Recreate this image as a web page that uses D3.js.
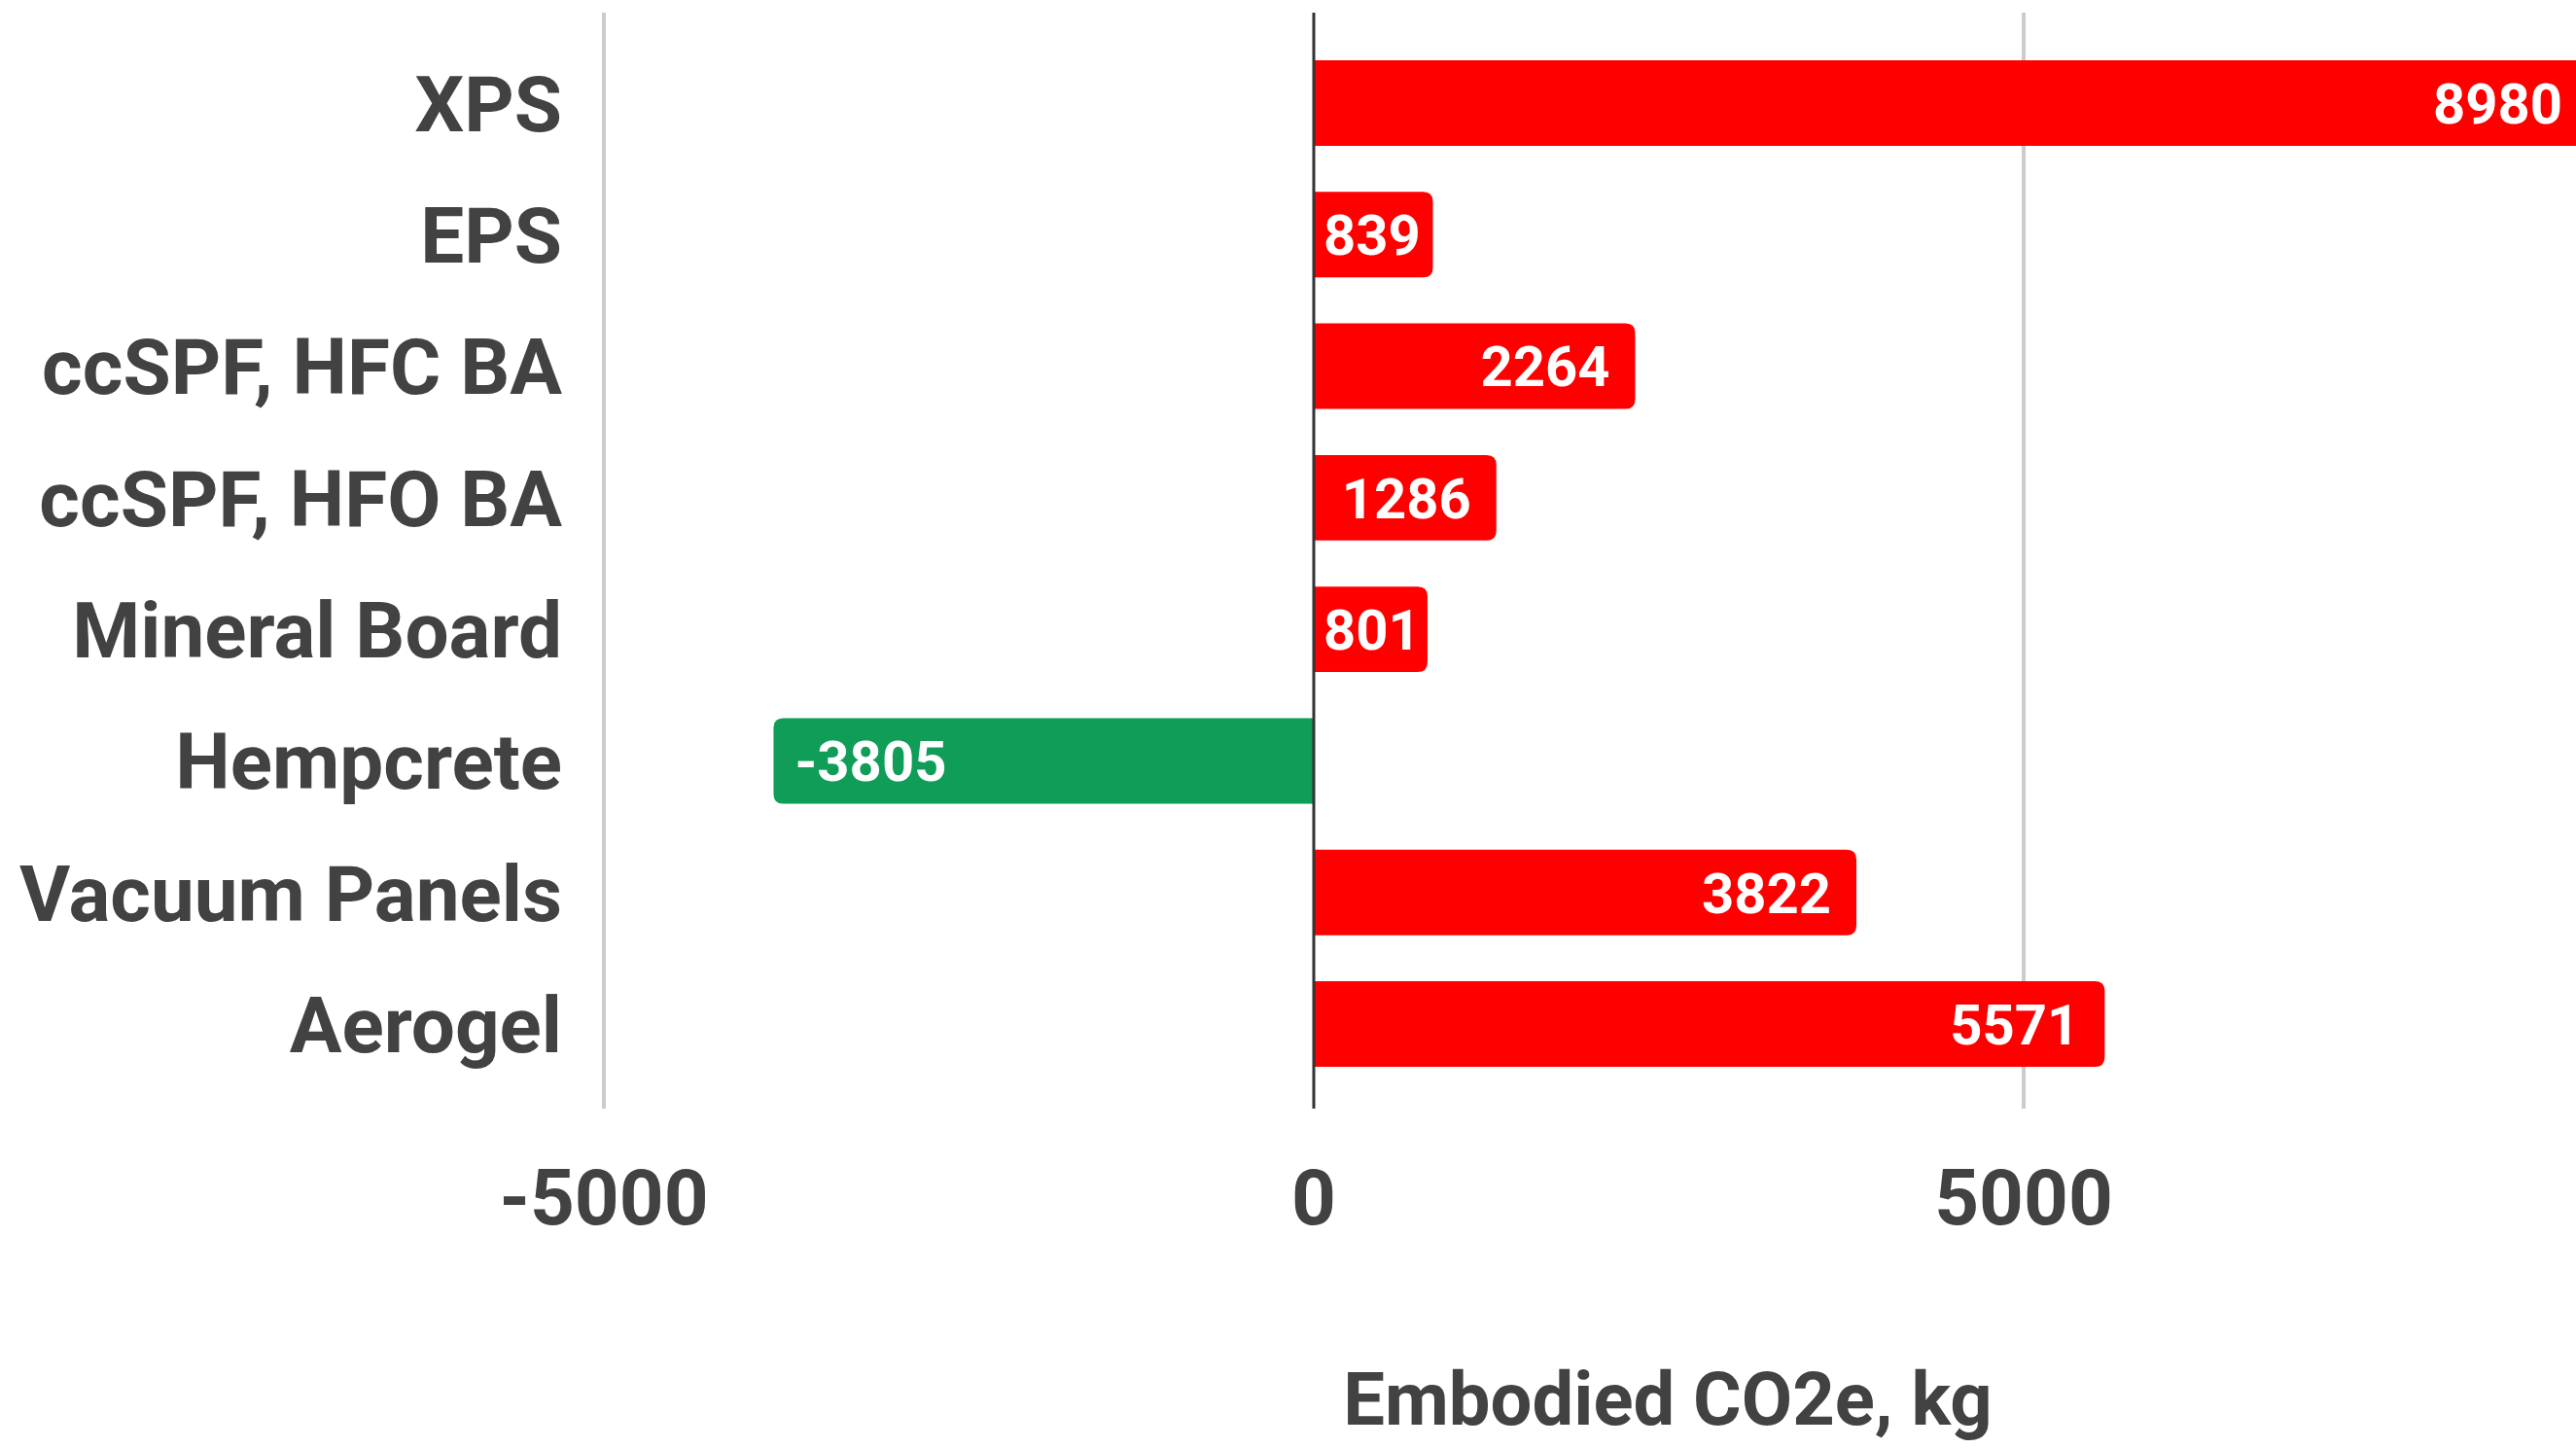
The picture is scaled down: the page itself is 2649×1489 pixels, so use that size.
<!DOCTYPE html>
<html>
<head>
<meta charset="utf-8">
<script src="https://cdn.jsdelivr.net/npm/d3@7"></script>
<style>
  html, body { margin: 0; padding: 0; background: #fff; overflow: hidden; }
  svg { display: block; }
</style>
</head>
<body>
<svg id="chart" width="2649" height="1489"></svg>
<script>
const categories = ["XPS", "EPS", "ccSPF, HFC BA", "ccSPF, HFO BA", "Mineral Board", "Hempcrete", "Vacuum Panels", "Aerogel"];
const values = [8980, 839, 2264, 1286, 801, -3805, 3822, 5571];
const tickValues = [-5000, 0, 5000];
const axisTitle = "Embodied CO2e, kg";

const W = 2649, H = 1489;
const svg = d3.select("#chart");
const font = "Roboto, 'Noto Sans', sans-serif";

const x = d3.scaleLinear().domain([-5000, 10000]).range([621, 2811]);
const y = d3.scaleBand().domain(categories).range([16, 1143]).paddingInner(0.35).paddingOuter(0.34);

const gridTop = 13, gridBottom = 1140;
const fmt = v => String(v);

// gridlines
svg.append("g").selectAll("line")
  .data(tickValues.filter(d => d !== 0))
  .join("line")
  .attr("x1", d => x(d)).attr("x2", d => x(d))
  .attr("y1", gridTop).attr("y2", gridBottom)
  .attr("stroke", "#cccccc").attr("stroke-width", 4);

// bars with rounded outer end
const r = 10;
function barPath(v, cat) {
  const y0 = y(cat), h = y.bandwidth();
  const x0 = x(0), x1 = x(v);
  if (v >= 0) {
    return `M${x0},${y0} H${x1 - r} Q${x1},${y0} ${x1},${y0 + r} V${y0 + h - r} Q${x1},${y0 + h} ${x1 - r},${y0 + h} H${x0} Z`;
  } else {
    return `M${x0},${y0} H${x1 + r} Q${x1},${y0} ${x1},${y0 + r} V${y0 + h - r} Q${x1},${y0 + h} ${x1 + r},${y0 + h} H${x0} Z`;
  }
}
const data = categories.map((c, i) => ({ c, v: values[i] }));

svg.append("g").selectAll("path")
  .data(data)
  .join("path")
  .attr("d", d => barPath(d.v, d.c))
  .attr("fill", d => d.v >= 0 ? "#ff0000" : "#0f9d58");

// zero line
svg.append("line")
  .attr("x1", x(0)).attr("x2", x(0))
  .attr("y1", gridTop).attr("y2", gridBottom)
  .attr("stroke", "#333333").attr("stroke-width", 3);

// value labels
const labels = svg.append("g").selectAll("text")
  .data(data)
  .join("text")
  .attr("y", d => y(d.c) + y.bandwidth() / 2)
  .attr("dy", "0.36em")
  .attr("fill", "#ffffff")
  .attr("font-family", font)
  .attr("font-weight", 700)
  .attr("font-size", 58)
  .text(d => fmt(d.v));

labels.each(function(d) {
  const t = d3.select(this);
  const w = this.getComputedTextLength();
  if (d.v >= 0) {
    const xr = Math.max(x(0) + 10 + w, Math.min(x(d.v), W + 12) - 26);
    t.attr("x", xr).attr("text-anchor", "end");
  } else {
    t.attr("x", x(d.v) + 22).attr("text-anchor", "start");
  }
});

// category labels
svg.append("g").selectAll("text")
  .data(categories)
  .join("text")
  .attr("x", 578)
  .attr("y", d => y(d) + y.bandwidth() / 2)
  .attr("dy", "0.36em")
  .attr("text-anchor", "end")
  .attr("fill", "#424242")
  .attr("font-family", font)
  .attr("font-weight", 700)
  .attr("font-size", 80)
  .text(d => d);

// x axis tick labels
svg.append("g").selectAll("text")
  .data(tickValues)
  .join("text")
  .attr("x", d => x(d))
  .attr("y", 1230)
  .attr("dy", "0.36em")
  .attr("text-anchor", "middle")
  .attr("fill", "#424242")
  .attr("font-family", font)
  .attr("font-weight", 700)
  .attr("font-size", 80)
  .text(d => fmt(d));

// axis title
svg.append("text")
  .attr("x", 1715)
  .attr("y", 1438)
  .attr("dy", "0.36em")
  .attr("text-anchor", "middle")
  .attr("fill", "#424242")
  .attr("font-family", font)
  .attr("font-weight", 700)
  .attr("font-size", 76)
  .text(axisTitle);
</script>
</body>
</html>
